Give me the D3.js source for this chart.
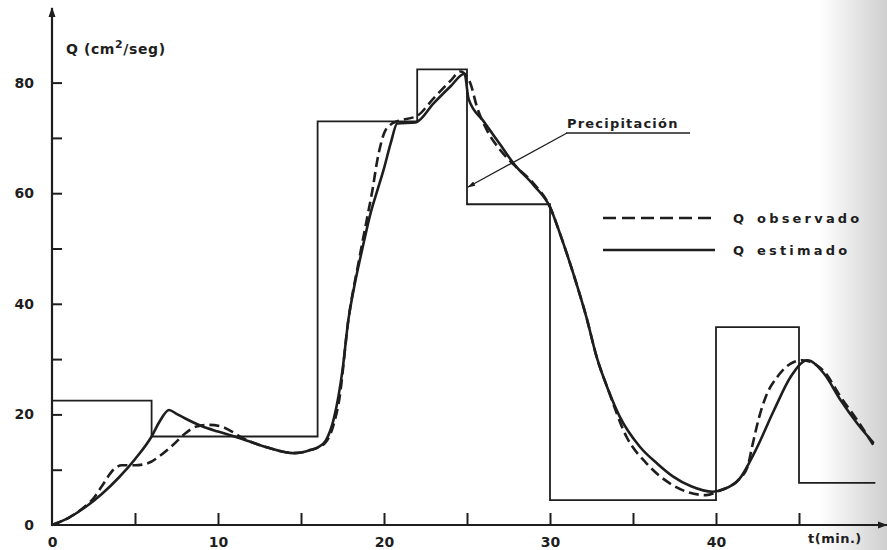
<!DOCTYPE html>
<html>
<head>
<meta charset="utf-8">
<script src="https://d3js.org/d3.v7.min.js"></script>
<style>
    body { margin: 0; background: #fff; }
    svg text { font-family: "DejaVu Sans", sans-serif; font-weight: bold; fill: #1e1e1e; }
    .tick text { font-size: 14px; }
    .tick line { stroke: #1e1e1e; stroke-width: 2; }
</style>
</head>
<body>
<svg width="887" height="550"></svg>
<script>
    // precipitation: interval start times and level on each interval
    var precipT = [0, 6, 16, 22, 25, 30, 40, 45, 49.6]
    var precipQ = [22.5, 16, 73, 82.4, 58, 4.5, 35.8, 7.6, 7.6]

    // Q estimado (solid)
    var estT = [0, 1, 2, 3, 4, 5, 6, 6.5, 7.05, 7.5, 8, 9, 10, 11, 12, 13, 14, 14.5, 15, 15.5, 16, 16.5, 17, 17.5, 17.85, 18.2, 18.7, 19.2, 19.6, 20, 20.4, 20.8, 21.9, 23, 24, 24.85, 25.1, 26, 27, 27.8, 29, 30, 30.6, 31.4, 32.2, 32.8, 33.5, 34.2, 35.4, 36.5, 37.4, 38.5, 39.8, 40.5, 41.4, 42.4, 43.5, 44.5, 45.5, 46.5, 47.5, 48.5, 49.5]
    var estQ = [0, 1.3, 3.2, 5.6, 8.5, 11.9, 16, 18.8, 20.8, 20.1, 19.3, 17.9, 16.9, 16.0, 15.0, 14.0, 13.2, 13.0, 13.1, 13.5, 14.0, 15.3, 19.5, 28, 37, 43, 50, 56.5, 60.5, 64.5, 69, 72.6, 72.8, 76.3, 79.3, 81.6, 77, 73, 68.8, 65.4, 61.5, 57.5, 52.7, 45.5, 37.5, 30.5, 24.5, 19.6, 14.2, 11, 8.8, 7.0, 6.0, 6.5, 8.3, 13.6, 20.8, 26.8, 29.8, 27.4, 22.6, 18.4, 14.8]

    // Q observado (dashed)
    var obsT = [0, 1, 2, 2.5, 3, 3.7, 4.2, 5, 5.8, 6.5, 7.3, 8, 8.7, 9.5, 10.2, 11, 11.5, 12, 13, 14, 14.5, 15, 15.5, 16, 16.5, 17, 17.3, 17.85, 18.5, 19.0, 19.3, 19.6, 20.0, 20.4, 20.8, 22, 23, 24, 24.6, 25.2, 25.6, 26.2, 27, 27.8, 29, 30, 30.6, 31.4, 32.2, 32.8, 33.5, 34.6, 35.8, 37.4, 39.4, 40.2, 41.4, 41.9, 42.2, 42.6, 43, 43.7, 44.5, 45.2, 46.5, 47.5, 48.5, 49.6]
    var obsQ = [0, 1.3, 3.4, 4.8, 7.0, 10.0, 10.8, 10.8, 11.2, 12.5, 14.5, 16.5, 17.8, 18.1, 17.8, 16.6, 15.7, 15.0, 14.0, 13.2, 13.0, 13.1, 13.5, 14.0, 15.0, 18.5, 22.6, 37, 48, 55.8, 60.5, 66, 70.8, 72.4, 73.0, 74.0, 77.2, 80.3, 82.0, 79.9, 75.6, 71.4, 67.8, 65.2, 61.8, 57.5, 52.7, 45.5, 37.5, 30.5, 24.5, 16, 11.2, 7.2, 5.4, 6.2, 8.3, 10.5, 14.5, 19.5, 23.2, 26.8, 29.2, 29.8, 27.8, 23.2, 19.0, 13.9]

    var xTicks = [0, 5, 10, 15, 20, 25, 30, 35, 40, 45]
    var xLabels = [0, 10, 20, 30, 40]
    var yTicks = [0, 10, 20, 30, 40, 50, 60, 70, 80]
    var yLabels = [0, 20, 40, 60, 80]

    var ink = "#1e1e1e"
    var svg = d3.select("svg")

    var defs = svg.append("defs")
    var grad = defs.append("linearGradient").attr("id", "edge")
    grad.append("stop").attr("offset", "0").attr("stop-color", "#fff")
    grad.append("stop").attr("offset", "1").attr("stop-color", "#cfcfcf")
    svg.append("rect").attr("x", 820).attr("y", 0).attr("width", 67).attr("height", 550)
        .attr("fill", "url(#edge)")

    defs.append("marker").attr("id", "arr").attr("viewBox", "0 0 10 10")
        .attr("refX", 9).attr("refY", 5).attr("markerWidth", 10).attr("markerHeight", 10)
        .attr("markerUnits", "userSpaceOnUse").attr("orient", "auto")
        .append("path").attr("d", "M0,1.5L10,5L0,8.5Z").attr("fill", ink)
    defs.append("marker").attr("id", "arrs").attr("viewBox", "0 0 10 10")
        .attr("refX", 9).attr("refY", 5).attr("markerWidth", 8).attr("markerHeight", 8)
        .attr("markerUnits", "userSpaceOnUse").attr("orient", "auto")
        .append("path").attr("d", "M0,2L10,5L0,8Z").attr("fill", ink)

    var x = d3.scaleLinear().domain([0, 50]).range([52, 882])
    var y = d3.scaleLinear().domain([0, 80]).range([525, 82.6])

    // axes
    var xAxis = d3.axisBottom(x).tickValues(xTicks).tickSizeInner(-12).tickSizeOuter(0).tickPadding(12)
        .tickFormat(d => xLabels.includes(d) ? d : "")
    svg.append("g").attr("transform", "translate(0," + y(0) + ")").call(xAxis)
        .call(g => g.select(".domain").remove())

    var yAxis = d3.axisLeft(y).tickValues(yTicks).tickSizeInner(-10).tickSizeOuter(0).tickPadding(18)
        .tickFormat(d => yLabels.includes(d) ? d : "")
    svg.append("g").attr("transform", "translate(" + x(0) + ",0)").call(yAxis)
        .call(g => g.select(".domain").remove())

    svg.append("line").attr("x1", x(0)).attr("y1", y(0) + 1).attr("x2", x(0)).attr("y2", 8)
        .attr("stroke", ink).attr("stroke-width", 2.2).attr("marker-end", "url(#arr)")
    svg.append("line").attr("x1", x(0) - 1).attr("y1", y(0)).attr("x2", 887).attr("y2", y(0))
        .attr("stroke", ink).attr("stroke-width", 2.2).attr("marker-end", "url(#arr)")

    svg.selectAll(".tick text").attr("fill", ink)
    svg.selectAll(".tick").filter(d => d === 0).select("line").remove()

    // precipitation steps
    var stepLine = d3.line().x((d, i) => x(precipT[i])).y(d => y(d)).curve(d3.curveStepAfter)
    svg.append("path").datum(precipQ).attr("d", stepLine)
        .attr("fill", "none").attr("stroke", ink).attr("stroke-width", 1.8)

    var curve = d3.line().x(d => x(d[0])).y(d => y(d[1])).curve(d3.curveMonotoneX)

    svg.append("path").datum(obsT.map((t, i) => [t, obsQ[i]])).attr("d", curve)
        .attr("fill", "none").attr("stroke", ink).attr("stroke-width", 2.6)
        .attr("stroke-dasharray", "10,5")

    svg.append("path").datum(estT.map((t, i) => [t, estQ[i]])).attr("d", curve)
        .attr("fill", "none").attr("stroke", ink).attr("stroke-width", 2.6)

    // axis titles
    var qt = svg.append("text").attr("x", 66).attr("y", 54).attr("font-size", 14).attr("letter-spacing", 0.6)
    qt.append("tspan").text("Q (cm")
    qt.append("tspan").attr("dy", -6).attr("font-size", 11).text("2")
    qt.append("tspan").attr("dy", 6).text("/seg)")

    svg.append("text").attr("x", 808).attr("y", 543).attr("font-size", 13).attr("letter-spacing", 0.5)
        .text("t(min.)")

    // annotation
    svg.append("text").attr("x", 567).attr("y", 128).attr("font-size", 13).attr("letter-spacing", 1.2)
        .text("Precipitación")
    svg.append("line").attr("x1", 566).attr("y1", 133).attr("x2", 690).attr("y2", 133)
        .attr("stroke", ink).attr("stroke-width", 1.3)
    svg.append("line").attr("x1", 567).attr("y1", 133).attr("x2", x(25) + 1).attr("y2", 187)
        .attr("stroke", ink).attr("stroke-width", 1.3).attr("marker-end", "url(#arrs)")

    // legend
    var legend = [
        { label: "observado", dash: "13,6", ly: 218 },
        { label: "estimado", dash: null, ly: 250 }
    ]
    legend.forEach(l => {
        svg.append("line").attr("x1", 603).attr("x2", 715).attr("y1", l.ly).attr("y2", l.ly)
            .attr("stroke", ink).attr("stroke-width", 2.6).attr("stroke-dasharray", l.dash)
        svg.append("text").attr("x", 733).attr("y", l.ly + 5).attr("font-size", 13).text("Q")
        svg.append("text").attr("x", 757).attr("y", l.ly + 5).attr("font-size", 13)
            .attr("letter-spacing", 3.2).text(l.label)
    })
</script>
</body>
</html>
